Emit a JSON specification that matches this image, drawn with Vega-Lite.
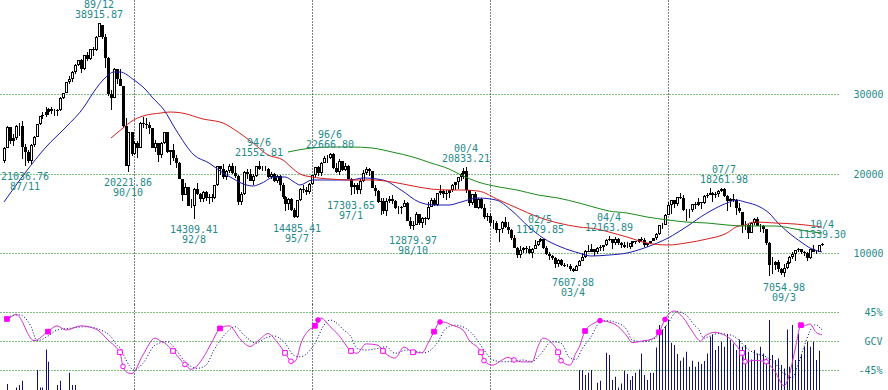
{
"$schema":"https://vega.github.io/schema/vega-lite/v6.json",
"padding":0,"background":"white","spacing":0,
"config":{"view":{"stroke":null},"axis":{"labelFont":"DejaVu Sans Mono","labelFontSize":10,"labelColor":"#1f8a8a"}},
"datasets":{
"k":[
{"d":"1987-04-01","o":21566,"h":23400,"l":21300,"c":23274},{"d":"1987-05-01","o":23274,"h":26000,"l":23200,"c":25929},{"d":"1987-06-01","o":25929,"h":25929,"l":23800,"c":24176},{"d":"1987-07-01","o":24176,"h":25000,"l":23500,"c":24488},{"d":"1987-08-01","o":24488,"h":26100,"l":24300,"c":26029},{"d":"1987-09-01","o":26029,"h":26400,"l":24800,"c":26011},{"d":"1987-10-01","o":26011,"h":26646,"l":21910,"c":23329},{"d":"1987-11-01","o":23329,"h":23700,"l":21037,"c":22686},{"d":"1987-12-01","o":22686,"h":23000,"l":21400,"c":21564},
{"d":"1988-01-01","o":21564,"h":23700,"l":21200,"c":23622},{"d":"1988-02-01","o":23622,"h":24700,"l":23400,"c":24660},{"d":"1988-03-01","o":24660,"h":26300,"l":24600,"c":26260},{"d":"1988-04-01","o":26260,"h":27300,"l":26100,"c":27235},{"d":"1988-05-01","o":27235,"h":27800,"l":26900,"c":27417},{"d":"1988-06-01","o":27417,"h":28400,"l":27200,"c":27769},{"d":"1988-07-01","o":27769,"h":28300,"l":27400,"c":28101},{"d":"1988-08-01","o":28101,"h":28400,"l":27500,"c":27911},{"d":"1988-09-01","o":27911,"h":28100,"l":27300,"c":27924},{"d":"1988-10-01","o":27924,"h":28100,"l":27300,"c":27989},{"d":"1988-11-01","o":27989,"h":29600,"l":27900,"c":29579},{"d":"1988-12-01","o":29579,"h":30200,"l":29400,"c":30159},
{"d":"1989-01-01","o":30159,"h":31600,"l":30100,"c":31581},{"d":"1989-02-01","o":31581,"h":32300,"l":31300,"c":31985},{"d":"1989-03-01","o":31985,"h":32900,"l":31600,"c":32839},{"d":"1989-04-01","o":32839,"h":33800,"l":32600,"c":33713},{"d":"1989-05-01","o":33713,"h":34300,"l":33500,"c":34267},{"d":"1989-06-01","o":34267,"h":34500,"l":32700,"c":33183},{"d":"1989-07-01","o":33183,"h":35000,"l":33000,"c":34954},{"d":"1989-08-01","o":34954,"h":35300,"l":34200,"c":34431},{"d":"1989-09-01","o":34431,"h":35700,"l":34300,"c":35636},{"d":"1989-10-01","o":35636,"h":35900,"l":34800,"c":35549},{"d":"1989-11-01","o":35549,"h":37300,"l":35400,"c":37268},{"d":"1989-12-01","o":37268,"h":38916,"l":37200,"c":38916},
{"d":"1990-01-01","o":38713,"h":38713,"l":36900,"c":37189},{"d":"1990-02-01","o":37189,"h":37600,"l":33300,"c":34592},{"d":"1990-03-01","o":34592,"h":34700,"l":29800,"c":29980},{"d":"1990-04-01","o":29980,"h":30500,"l":28002,"c":29585},{"d":"1990-05-01","o":29585,"h":33300,"l":29500,"c":33131},{"d":"1990-06-01","o":33131,"h":33200,"l":31300,"c":31940},{"d":"1990-07-01","o":31940,"h":33200,"l":31000,"c":31036},{"d":"1990-08-01","o":31036,"h":31100,"l":25700,"c":25979},{"d":"1990-09-01","o":25979,"h":27000,"l":20984,"c":20984},{"d":"1990-10-01","o":20984,"h":25300,"l":20222,"c":25194},{"d":"1990-11-01","o":25194,"h":25300,"l":22200,"c":22455},{"d":"1990-12-01","o":22455,"h":24100,"l":22300,"c":23849},
{"d":"1991-01-01","o":23849,"h":24100,"l":22000,"c":23293},{"d":"1991-02-01","o":23293,"h":26500,"l":23200,"c":26409},{"d":"1991-03-01","o":26409,"h":27100,"l":25800,"c":26292},{"d":"1991-04-01","o":26292,"h":27000,"l":25600,"c":26111},{"d":"1991-05-01","o":26111,"h":26500,"l":25000,"c":25790},{"d":"1991-06-01","o":25790,"h":25800,"l":23200,"c":23291},{"d":"1991-07-01","o":23291,"h":24200,"l":22800,"c":23899},{"d":"1991-08-01","o":23899,"h":23900,"l":21456,"c":22336},{"d":"1991-09-01","o":22336,"h":24000,"l":22000,"c":23916},{"d":"1991-10-01","o":23916,"h":25300,"l":23800,"c":25222},{"d":"1991-11-01","o":25222,"h":25300,"l":22600,"c":22688},{"d":"1991-12-01","o":22688,"h":23000,"l":21100,"c":22984},
{"d":"1992-01-01","o":22984,"h":23800,"l":21600,"c":22023},{"d":"1992-02-01","o":22023,"h":22300,"l":20700,"c":21339},{"d":"1992-03-01","o":21339,"h":21500,"l":19300,"c":19346},{"d":"1992-04-01","o":19346,"h":19400,"l":16600,"c":17391},{"d":"1992-05-01","o":17391,"h":18900,"l":17300,"c":18348},{"d":"1992-06-01","o":18348,"h":18400,"l":15900,"c":15952},{"d":"1992-07-01","o":15952,"h":16800,"l":15700,"c":15910},{"d":"1992-08-01","o":15910,"h":18200,"l":14309,"c":18061},{"d":"1992-09-01","o":18061,"h":18900,"l":17300,"c":17399},{"d":"1992-10-01","o":17399,"h":17600,"l":16400,"c":16767},{"d":"1992-11-01","o":16767,"h":17800,"l":16500,"c":17684},{"d":"1992-12-01","o":17684,"h":17800,"l":16600,"c":16925},
{"d":"1993-01-01","o":16925,"h":17400,"l":16200,"c":17024},{"d":"1993-02-01","o":17024,"h":17400,"l":16500,"c":16953},{"d":"1993-03-01","o":16953,"h":18600,"l":16800,"c":18591},{"d":"1993-04-01","o":18591,"h":20950,"l":18500,"c":20919},{"d":"1993-05-01","o":20919,"h":21000,"l":19800,"c":20552},{"d":"1993-06-01","o":20552,"h":21200,"l":19400,"c":19591},{"d":"1993-07-01","o":19591,"h":20500,"l":19200,"c":20380},{"d":"1993-08-01","o":20380,"h":21281,"l":20100,"c":21027},{"d":"1993-09-01","o":21027,"h":21300,"l":20000,"c":20106},{"d":"1993-10-01","o":20106,"h":21000,"l":19500,"c":19704},{"d":"1993-11-01","o":19704,"h":19900,"l":16079,"c":16408},{"d":"1993-12-01","o":16408,"h":17700,"l":16100,"c":17417},
{"d":"1994-01-01","o":17417,"h":20300,"l":17300,"c":20229},{"d":"1994-02-01","o":20229,"h":20600,"l":19400,"c":19997},{"d":"1994-03-01","o":19997,"h":20600,"l":19100,"c":19112},{"d":"1994-04-01","o":19112,"h":20000,"l":18600,"c":19725},{"d":"1994-05-01","o":19725,"h":21000,"l":19600,"c":20974},{"d":"1994-06-01","o":20974,"h":21553,"l":20500,"c":20644},{"d":"1994-07-01","o":20644,"h":21000,"l":20400,"c":20642},{"d":"1994-08-01","o":20642,"h":21000,"l":20300,"c":20629},{"d":"1994-09-01","o":20629,"h":20700,"l":19500,"c":19564},{"d":"1994-10-01","o":19564,"h":20200,"l":19400,"c":19990},{"d":"1994-11-01","o":19990,"h":20100,"l":19000,"c":19076},{"d":"1994-12-01","o":19076,"h":19800,"l":18800,"c":19723},
{"d":"1995-01-01","o":19723,"h":19800,"l":17800,"c":18650},{"d":"1995-02-01","o":18650,"h":18800,"l":16800,"c":17053},{"d":"1995-03-01","o":17053,"h":17200,"l":15300,"c":16140},{"d":"1995-04-01","o":16140,"h":17000,"l":15400,"c":16807},{"d":"1995-05-01","o":16807,"h":17000,"l":15300,"c":15437},{"d":"1995-06-01","o":15437,"h":15700,"l":14500,"c":14517},{"d":"1995-07-01","o":14517,"h":16700,"l":14485,"c":16678},{"d":"1995-08-01","o":16678,"h":18200,"l":16600,"c":18117},{"d":"1995-09-01","o":18117,"h":18600,"l":17600,"c":17913},{"d":"1995-10-01","o":17913,"h":18400,"l":17300,"c":17655},{"d":"1995-11-01","o":17655,"h":18800,"l":17400,"c":18744},{"d":"1995-12-01","o":18744,"h":19900,"l":18600,"c":19868},
{"d":"1996-01-01","o":19868,"h":20900,"l":19600,"c":20813},{"d":"1996-02-01","o":20813,"h":21000,"l":19700,"c":20125},{"d":"1996-03-01","o":20125,"h":21500,"l":19700,"c":21407},{"d":"1996-04-01","o":21407,"h":22200,"l":21300,"c":22041},{"d":"1996-05-01","o":22041,"h":22300,"l":21300,"c":21956},{"d":"1996-06-01","o":21956,"h":22667,"l":21800,"c":22531},{"d":"1996-07-01","o":22531,"h":22600,"l":20600,"c":20693},{"d":"1996-08-01","o":20693,"h":21300,"l":20100,"c":20167},{"d":"1996-09-01","o":20167,"h":21800,"l":19800,"c":21556},{"d":"1996-10-01","o":21556,"h":21600,"l":20300,"c":20467},{"d":"1996-11-01","o":20467,"h":21300,"l":20300,"c":21020},{"d":"1996-12-01","o":21020,"h":21100,"l":19300,"c":19361},
{"d":"1997-01-01","o":19361,"h":19500,"l":17304,"c":18330},{"d":"1997-02-01","o":18330,"h":18900,"l":17500,"c":18557},{"d":"1997-03-01","o":18557,"h":18800,"l":17500,"c":18003},{"d":"1997-04-01","o":18003,"h":19300,"l":17500,"c":19151},{"d":"1997-05-01","o":19151,"h":20500,"l":19000,"c":20069},{"d":"1997-06-01","o":20069,"h":20900,"l":19900,"c":20605},{"d":"1997-07-01","o":20605,"h":20700,"l":19700,"c":20331},{"d":"1997-08-01","o":20331,"h":20400,"l":18200,"c":18229},{"d":"1997-09-01","o":18229,"h":18600,"l":17200,"c":17888},{"d":"1997-10-01","o":17888,"h":18000,"l":16300,"c":16459},{"d":"1997-11-01","o":16459,"h":16900,"l":14800,"c":16633},{"d":"1997-12-01","o":16633,"h":16900,"l":14900,"c":15259},
{"d":"1998-01-01","o":15259,"h":17000,"l":14700,"c":16628},{"d":"1998-02-01","o":16628,"h":17200,"l":16300,"c":16832},{"d":"1998-03-01","o":16832,"h":17300,"l":16200,"c":16527},{"d":"1998-04-01","o":16527,"h":16700,"l":15600,"c":15641},{"d":"1998-05-01","o":15641,"h":16000,"l":15000,"c":15671},{"d":"1998-06-01","o":15671,"h":15900,"l":14900,"c":15830},{"d":"1998-07-01","o":15830,"h":16700,"l":15800,"c":16379},{"d":"1998-08-01","o":16379,"h":16500,"l":14100,"c":14108},{"d":"1998-09-01","o":14108,"h":14600,"l":13100,"c":13406},{"d":"1998-10-01","o":13406,"h":14000,"l":12880,"c":13565},{"d":"1998-11-01","o":13565,"h":15200,"l":13500,"c":14883},{"d":"1998-12-01","o":14883,"h":15000,"l":13500,"c":13842},
{"d":"1999-01-01","o":13842,"h":14600,"l":13200,"c":14499},{"d":"1999-02-01","o":14499,"h":14600,"l":13600,"c":14368},{"d":"1999-03-01","o":14368,"h":16400,"l":14200,"c":15837},{"d":"1999-04-01","o":15837,"h":16900,"l":15800,"c":16702},{"d":"1999-05-01","o":16702,"h":16900,"l":16000,"c":16112},{"d":"1999-06-01","o":16112,"h":17600,"l":16000,"c":17530},{"d":"1999-07-01","o":17530,"h":18600,"l":17300,"c":17862},{"d":"1999-08-01","o":17862,"h":18000,"l":16900,"c":17437},{"d":"1999-09-01","o":17437,"h":18000,"l":16700,"c":17605},{"d":"1999-10-01","o":17605,"h":18000,"l":17000,"c":17942},{"d":"1999-11-01","o":17942,"h":18700,"l":17700,"c":18558},{"d":"1999-12-01","o":18558,"h":19000,"l":18000,"c":18934},
{"d":"2000-01-01","o":18934,"h":19600,"l":18100,"c":19540},{"d":"2000-02-01","o":19540,"h":20100,"l":19100,"c":19960},{"d":"2000-03-01","o":19960,"h":20700,"l":19300,"c":20337},{"d":"2000-04-01","o":20337,"h":20833,"l":17600,"c":17974},{"d":"2000-05-01","o":17974,"h":18000,"l":16000,"c":16332},{"d":"2000-06-01","o":16332,"h":17500,"l":16100,"c":17411},{"d":"2000-07-01","o":17411,"h":17700,"l":15700,"c":15727},{"d":"2000-08-01","o":15727,"h":16900,"l":15600,"c":16861},{"d":"2000-09-01","o":16861,"h":16900,"l":15600,"c":15747},{"d":"2000-10-01","o":15747,"h":16200,"l":14300,"c":14540},{"d":"2000-11-01","o":14540,"h":15100,"l":14100,"c":14649},{"d":"2000-12-01","o":14649,"h":15100,"l":13400,"c":13786},
{"d":"2001-01-01","o":13786,"h":14200,"l":13000,"c":13844},{"d":"2001-02-01","o":13844,"h":14000,"l":12600,"c":12884},{"d":"2001-03-01","o":12884,"h":13100,"l":11433,"c":12999},{"d":"2001-04-01","o":12999,"h":14000,"l":12600,"c":13934},{"d":"2001-05-01","o":13934,"h":14600,"l":13200,"c":13262},{"d":"2001-06-01","o":13262,"h":13900,"l":12400,"c":12969},{"d":"2001-07-01","o":12969,"h":13000,"l":11700,"c":11861},{"d":"2001-08-01","o":11861,"h":12300,"l":10700,"c":10714},{"d":"2001-09-01","o":10714,"h":10800,"l":9382,"c":9775},{"d":"2001-10-01","o":9775,"h":10900,"l":9400,"c":10366},{"d":"2001-11-01","o":10366,"h":10800,"l":10000,"c":10697},{"d":"2001-12-01","o":10697,"h":10900,"l":10000,"c":10543},
{"d":"2002-01-01","o":10543,"h":10900,"l":9900,"c":9997},{"d":"2002-02-01","o":9997,"h":10700,"l":9420,"c":10588},{"d":"2002-03-01","o":10588,"h":11700,"l":10500,"c":11025},{"d":"2002-04-01","o":11025,"h":11600,"l":10900,"c":11493},{"d":"2002-05-01","o":11493,"h":11980,"l":11400,"c":11764},{"d":"2002-06-01","o":11764,"h":11800,"l":10500,"c":10622},{"d":"2002-07-01","o":10622,"h":10900,"l":9800,"c":9877},{"d":"2002-08-01","o":9877,"h":10200,"l":9100,"c":9619},{"d":"2002-09-01","o":9619,"h":9800,"l":9100,"c":9383},{"d":"2002-10-01","o":9383,"h":9500,"l":8200,"c":8640},{"d":"2002-11-01","o":8640,"h":9300,"l":8300,"c":9216},{"d":"2002-12-01","o":9216,"h":9300,"l":8400,"c":8579},
{"d":"2003-01-01","o":8579,"h":8800,"l":8300,"c":8340},{"d":"2003-02-01","o":8340,"h":8700,"l":8300,"c":8363},{"d":"2003-03-01","o":8363,"h":8600,"l":7800,"c":7973},{"d":"2003-04-01","o":7973,"h":8100,"l":7608,"c":7831},{"d":"2003-05-01","o":7831,"h":8500,"l":7800,"c":8425},{"d":"2003-06-01","o":8425,"h":9200,"l":8400,"c":9083},{"d":"2003-07-01","o":9083,"h":10000,"l":9000,"c":9563},{"d":"2003-08-01","o":9563,"h":10400,"l":9400,"c":10344},{"d":"2003-09-01","o":10344,"h":11000,"l":10200,"c":10219},{"d":"2003-10-01","o":10219,"h":11200,"l":10200,"c":10560},{"d":"2003-11-01","o":10560,"h":10600,"l":9600,"c":10101},{"d":"2003-12-01","o":10101,"h":10800,"l":9900,"c":10677},
{"d":"2004-01-01","o":10677,"h":11000,"l":10300,"c":10784},{"d":"2004-02-01","o":10784,"h":11100,"l":10300,"c":11042},{"d":"2004-03-01","o":11042,"h":11800,"l":10900,"c":11715},{"d":"2004-04-01","o":11715,"h":12164,"l":11600,"c":11762},{"d":"2004-05-01","o":11762,"h":11800,"l":10500,"c":11236},{"d":"2004-06-01","o":11236,"h":12000,"l":11000,"c":11859},{"d":"2004-07-01","o":11859,"h":11900,"l":11100,"c":11326},{"d":"2004-08-01","o":11326,"h":11400,"l":10700,"c":11082},{"d":"2004-09-01","o":11082,"h":11400,"l":10700,"c":10824},{"d":"2004-10-01","o":10824,"h":11400,"l":10700,"c":10771},{"d":"2004-11-01","o":10771,"h":11300,"l":10600,"c":11231},{"d":"2004-12-01","o":11231,"h":11500,"l":10800,"c":11489},
{"d":"2005-01-01","o":11489,"h":11600,"l":11200,"c":11388},{"d":"2005-02-01","o":11388,"h":11800,"l":11300,"c":11741},{"d":"2005-03-01","o":11741,"h":12000,"l":11600,"c":11669},{"d":"2005-04-01","o":11669,"h":11900,"l":10800,"c":11009},{"d":"2005-05-01","o":11009,"h":11300,"l":10800,"c":11277},{"d":"2005-06-01","o":11277,"h":11600,"l":11200,"c":11584},{"d":"2005-07-01","o":11584,"h":11950,"l":11500,"c":11900},{"d":"2005-08-01","o":11900,"h":12500,"l":11700,"c":12414},{"d":"2005-09-01","o":12414,"h":13600,"l":12300,"c":13574},{"d":"2005-10-01","o":13574,"h":13800,"l":13000,"c":13607},{"d":"2005-11-01","o":13607,"h":14900,"l":13600,"c":14872},{"d":"2005-12-01","o":14872,"h":16400,"l":14800,"c":16111},
{"d":"2006-01-01","o":16111,"h":16700,"l":15000,"c":16650},{"d":"2006-02-01","o":16650,"h":16700,"l":15700,"c":16206},{"d":"2006-03-01","o":16206,"h":17100,"l":15900,"c":17060},{"d":"2006-04-01","o":17060,"h":17600,"l":16800,"c":16906},{"d":"2006-05-01","o":16906,"h":17300,"l":15300,"c":15467},{"d":"2006-06-01","o":15467,"h":15600,"l":14046,"c":15505},{"d":"2006-07-01","o":15505,"h":15600,"l":14400,"c":15457},{"d":"2006-08-01","o":15457,"h":16200,"l":15200,"c":16141},{"d":"2006-09-01","o":16141,"h":16400,"l":15600,"c":16128},{"d":"2006-10-01","o":16128,"h":16900,"l":16000,"c":16399},{"d":"2006-11-01","o":16399,"h":16500,"l":15600,"c":16274},{"d":"2006-12-01","o":16274,"h":17300,"l":16200,"c":17226},
{"d":"2007-01-01","o":17226,"h":17600,"l":16900,"c":17383},{"d":"2007-02-01","o":17383,"h":18215,"l":17300,"c":17604},{"d":"2007-03-01","o":17604,"h":17700,"l":16500,"c":17288},{"d":"2007-04-01","o":17288,"h":17700,"l":17000,"c":17400},{"d":"2007-05-01","o":17400,"h":17900,"l":17100,"c":17876},{"d":"2007-06-01","o":17876,"h":18240,"l":17700,"c":18138},{"d":"2007-07-01","o":18138,"h":18262,"l":17100,"c":17249},{"d":"2007-08-01","o":17249,"h":17300,"l":15262,"c":16569},{"d":"2007-09-01","o":16569,"h":16900,"l":15800,"c":16786},{"d":"2007-10-01","o":16786,"h":17500,"l":16400,"c":16737},{"d":"2007-11-01","o":16737,"h":16800,"l":14800,"c":15681},{"d":"2007-12-01","o":15681,"h":16300,"l":15100,"c":15308},
{"d":"2008-01-01","o":15156,"h":15156,"l":12573,"c":13592},{"d":"2008-02-01","o":13592,"h":14000,"l":12900,"c":13603},{"d":"2008-03-01","o":13603,"h":13700,"l":11788,"c":12526},{"d":"2008-04-01","o":12526,"h":13900,"l":12500,"c":13850},{"d":"2008-05-01","o":13850,"h":14500,"l":13600,"c":14339},{"d":"2008-06-01","o":14339,"h":14600,"l":13400,"c":13481},{"d":"2008-07-01","o":13481,"h":13700,"l":12700,"c":13377},{"d":"2008-08-01","o":13377,"h":13500,"l":12600,"c":13073},{"d":"2008-09-01","o":13073,"h":13100,"l":11000,"c":11260},{"d":"2008-10-01","o":11260,"h":11400,"l":7163,"c":8577},{"d":"2008-11-01","o":8577,"h":9500,"l":7400,"c":8512},{"d":"2008-12-01","o":8512,"h":9000,"l":7900,"c":8860},
{"d":"2009-01-01","o":8860,"h":9200,"l":7700,"c":7994},{"d":"2009-02-01","o":7994,"h":8100,"l":7300,"c":7568},{"d":"2009-03-01","o":7568,"h":8600,"l":7055,"c":8110},{"d":"2009-04-01","o":8110,"h":9000,"l":8000,"c":8828},{"d":"2009-05-01","o":8828,"h":9600,"l":8600,"c":9523},{"d":"2009-06-01","o":9523,"h":10200,"l":9300,"c":9958},{"d":"2009-07-01","o":9958,"h":10400,"l":9000,"c":10357},{"d":"2009-08-01","o":10357,"h":10700,"l":10100,"c":10493},{"d":"2009-09-01","o":10493,"h":10600,"l":9900,"c":10133},{"d":"2009-10-01","o":10133,"h":10300,"l":9600,"c":10035},{"d":"2009-11-01","o":10035,"h":10100,"l":9080,"c":9346},{"d":"2009-12-01","o":9346,"h":10600,"l":9300,"c":10546},
{"d":"2010-01-01","o":10546,"h":10980,"l":10200,"c":10198},{"d":"2010-02-01","o":10198,"h":10400,"l":9900,"c":10126},{"d":"2010-03-01","o":10126,"h":11100,"l":10100,"c":11090},{"d":"2010-04-01","o":11090,"h":11339,"l":10900,"c":11200}
],
"ma":[
{"s":"b","d":"1987-04-01","v":16490},{"s":"b","d":"1987-11-01","v":20065},{"s":"b","d":"1988-06-01","v":23410},{"s":"b","d":"1989-01-01","v":25927},{"s":"b","d":"1989-07-01","v":28443},{"s":"b","d":"1989-10-01","v":30129},{"s":"b","d":"1990-02-01","v":32016},{"s":"b","d":"1990-05-01","v":32846},{"s":"b","d":"1990-07-01","v":32846},{"s":"b","d":"1990-12-01","v":31802},{"s":"b","d":"1991-04-01","v":30544},{"s":"b","d":"1991-06-01","v":29701},{"s":"b","d":"1991-10-01","v":28028},{"s":"b","d":"1992-02-01","v":25512},{"s":"b","d":"1992-08-01","v":22367},{"s":"b","d":"1993-01-01","v":21323},{"s":"b","d":"1993-06-01","v":20065},{"s":"b","d":"1993-09-01","v":19436},{"s":"b","d":"1993-12-01","v":18807},{"s":"b","d":"1994-04-01","v":18468},{"s":"b","d":"1994-07-01","v":18807},{"s":"b","d":"1994-11-01","v":19562},{"s":"b","d":"1995-03-01","v":19637},{"s":"b","d":"1995-06-01","v":19008},{"s":"b","d":"1995-08-01","v":18593},{"s":"b","d":"1995-12-01","v":19222},{"s":"b","d":"1996-06-01","v":19222},{"s":"b","d":"1997-01-01","v":19222},{"s":"b","d":"1997-05-01","v":19436},{"s":"b","d":"1997-12-01","v":19222},{"s":"b","d":"1998-06-01","v":17964},{"s":"b","d":"1998-12-01","v":16492},{"s":"b","d":"1999-05-01","v":16077},{"s":"b","d":"1999-10-01","v":16077},{"s":"b","d":"2000-02-01","v":16492},{"s":"b","d":"2000-08-01","v":16920},{"s":"b","d":"2001-02-01","v":16706},{"s":"b","d":"2001-07-01","v":15448},{"s":"b","d":"2002-01-01","v":13347},{"s":"b","d":"2002-06-01","v":11888},{"s":"b","d":"2002-12-01","v":10831},{"s":"b","d":"2003-06-01","v":10001},{"s":"b","d":"2003-10-01","v":9661},{"s":"b","d":"2004-04-01","v":9787},{"s":"b","d":"2004-10-01","v":10077},{"s":"b","d":"2005-05-01","v":10831},{"s":"b","d":"2005-12-01","v":11888},{"s":"b","d":"2006-06-01","v":13347},{"s":"b","d":"2007-01-01","v":15033},{"s":"b","d":"2007-08-01","v":16367},{"s":"b","d":"2007-11-01","v":16706},{"s":"b","d":"2008-02-01","v":16390},{"s":"b","d":"2008-07-01","v":15864},{"s":"b","d":"2008-10-01","v":15033},{"s":"b","d":"2009-01-01","v":13775},{"s":"b","d":"2009-05-01","v":12517},{"s":"b","d":"2009-09-01","v":11460},{"s":"b","d":"2009-12-01","v":10630},{"s":"b","d":"2010-04-01","v":10202},
{"s":"r","d":"1990-04-01","v":24470},{"s":"r","d":"1990-08-01","v":25700},{"s":"r","d":"1990-11-01","v":26600},{"s":"r","d":"1991-03-01","v":27300},{"s":"r","d":"1991-09-01","v":27613},{"s":"r","d":"1991-12-01","v":27740},{"s":"r","d":"1992-04-01","v":27613},{"s":"r","d":"1992-11-01","v":26858},{"s":"r","d":"1993-06-01","v":26355},{"s":"r","d":"1993-10-01","v":25513},{"s":"r","d":"1994-04-01","v":23838},{"s":"r","d":"1994-09-01","v":22366},{"s":"r","d":"1995-02-01","v":21738},{"s":"r","d":"1995-05-01","v":20820},{"s":"r","d":"1995-08-01","v":20000},{"s":"r","d":"1995-12-01","v":19640},{"s":"r","d":"1996-06-01","v":19388},{"s":"r","d":"1997-01-01","v":19224},{"s":"r","d":"1997-08-01","v":19224},{"s":"r","d":"1998-03-01","v":19010},{"s":"r","d":"1998-10-01","v":18455},{"s":"r","d":"1999-04-01","v":18040},{"s":"r","d":"1999-10-01","v":17907},{"s":"r","d":"2000-02-01","v":17964},{"s":"r","d":"2000-08-01","v":17837},{"s":"r","d":"2001-03-01","v":16706},{"s":"r","d":"2001-09-01","v":15662},{"s":"r","d":"2002-04-01","v":14618},{"s":"r","d":"2002-11-01","v":13775},{"s":"r","d":"2003-06-01","v":13347},{"s":"r","d":"2003-12-01","v":13020},{"s":"r","d":"2004-04-01","v":12717},{"s":"r","d":"2004-10-01","v":12088},{"s":"r","d":"2005-05-01","v":11334},{"s":"r","d":"2005-12-01","v":11045},{"s":"r","d":"2006-06-01","v":11254},{"s":"r","d":"2007-01-01","v":11757},{"s":"r","d":"2007-08-01","v":12512},{"s":"r","d":"2007-11-01","v":13368},{"s":"r","d":"2008-02-01","v":13561},{"s":"r","d":"2008-05-01","v":13889},{"s":"r","d":"2008-12-01","v":13800},{"s":"r","d":"2009-07-01","v":13637},{"s":"r","d":"2010-04-01","v":13297},
{"s":"g","d":"1995-04-01","v":22782},{"s":"g","d":"1995-12-01","v":23201},{"s":"g","d":"1996-06-01","v":23410},{"s":"g","d":"1997-01-01","v":23410},{"s":"g","d":"1997-08-01","v":23201},{"s":"g","d":"1998-03-01","v":22782},{"s":"g","d":"1998-10-01","v":22153},{"s":"g","d":"1999-04-01","v":21310},{"s":"g","d":"1999-10-01","v":20550},{"s":"g","d":"2000-02-01","v":19826},{"s":"g","d":"2000-08-01","v":18983},{"s":"g","d":"2001-03-01","v":18354},{"s":"g","d":"2001-09-01","v":17939},{"s":"g","d":"2002-04-01","v":17310},{"s":"g","d":"2002-11-01","v":16895},{"s":"g","d":"2003-06-01","v":16266},{"s":"g","d":"2003-12-01","v":15637},{"s":"g","d":"2004-04-01","v":15310},{"s":"g","d":"2004-10-01","v":15008},{"s":"g","d":"2005-05-01","v":14593},{"s":"g","d":"2005-12-01","v":14177},{"s":"g","d":"2006-06-01","v":13964},{"s":"g","d":"2007-01-01","v":13749},{"s":"g","d":"2007-08-01","v":13548},{"s":"g","d":"2008-02-01","v":13461},{"s":"g","d":"2008-05-01","v":13400},{"s":"g","d":"2008-12-01","v":13374},{"s":"g","d":"2009-07-01","v":13046},{"s":"g","d":"2010-01-01","v":12705},{"s":"g","d":"2010-04-01","v":12600}
],
"ann":[
{"d":"1989-12-01","lbl":"89/12","v":38915.87,"kind":"hi"},{"d":"1994-06-01","lbl":"94/6","v":21552.81,"kind":"hi"},{"d":"1996-06-01","lbl":"96/6","v":22666.80,"kind":"hi"},{"d":"2000-04-01","lbl":"00/4","v":20833.21,"kind":"hi"},{"d":"2002-05-01","lbl":"02/5","v":11979.85,"kind":"hi"},{"d":"2004-04-01","lbl":"04/4","v":12163.89,"kind":"hi"},{"d":"2007-07-01","lbl":"07/7","v":18261.98,"kind":"hi"},{"d":"2010-04-01","lbl":"10/4","v":11339.30,"kind":"hi"},
{"d":"1987-11-01","lbl":"87/11","v":21036.76,"kind":"lo"},{"d":"1990-10-01","lbl":"90/10","v":20221.86,"kind":"lo"},{"d":"1992-08-01","lbl":"92/8","v":14309.41,"kind":"lo"},{"d":"1995-07-01","lbl":"95/7","v":14485.41,"kind":"lo"},{"d":"1997-01-01","lbl":"97/1","v":17303.65,"kind":"lo"},{"d":"1998-10-01","lbl":"98/10","v":12879.97,"kind":"lo"},{"d":"2003-04-01","lbl":"03/4","v":7607.88,"kind":"lo"},{"d":"2009-03-01","lbl":"09/3","v":7054.98,"kind":"lo"}
],
"vol":[
{"d":"1987-05-01","vol":180},{"d":"1987-08-01","vol":163},{"d":"1987-09-01","vol":175},{"d":"1987-10-01","vol":196},{"d":"1988-03-01","vol":250},{"d":"1988-04-01","vol":163},{"d":"1988-05-01","vol":163},{"d":"1988-06-01","vol":353},{"d":"1988-07-01","vol":291},{"d":"1988-10-01","vol":175},{"d":"1988-11-01","vol":196},{"d":"1989-02-01","vol":236},{"d":"1989-03-01","vol":175},{"d":"1989-04-01","vol":175},
{"d":"2003-06-01","vol":250},{"d":"2003-07-01","vol":250},{"d":"2003-08-01","vol":225},{"d":"2003-09-01","vol":236},{"d":"2003-10-01","vol":250},{"d":"2003-12-01","vol":186},{"d":"2004-01-01","vol":196},{"d":"2004-03-01","vol":336},{"d":"2004-04-01","vol":325},{"d":"2004-05-01","vol":200},{"d":"2004-06-01","vol":216},{"d":"2004-07-01","vol":163},{"d":"2004-08-01","vol":183},{"d":"2004-09-01","vol":246},{"d":"2004-10-01","vol":230},{"d":"2004-11-01","vol":200},{"d":"2004-12-01","vol":220},
{"d":"2005-01-01","vol":236},{"d":"2005-02-01","vol":253},{"d":"2005-03-01","vol":333},{"d":"2005-04-01","vol":225},{"d":"2005-05-01","vol":200},{"d":"2005-06-01","vol":236},{"d":"2005-07-01","vol":236},{"d":"2005-08-01","vol":363},{"d":"2005-09-01","vol":475},{"d":"2005-10-01","vol":453},{"d":"2005-11-01","vol":470},{"d":"2005-12-01","vol":500},
{"d":"2006-01-01","vol":386},{"d":"2006-02-01","vol":375},{"d":"2006-03-01","vol":330},{"d":"2006-04-01","vol":296},{"d":"2006-05-01","vol":313},{"d":"2006-06-01","vol":341},{"d":"2006-07-01","vol":266},{"d":"2006-08-01","vol":296},{"d":"2006-09-01","vol":266},{"d":"2006-10-01","vol":291},{"d":"2006-11-01","vol":280},{"d":"2006-12-01","vol":295},
{"d":"2007-01-01","vol":333},{"d":"2007-02-01","vol":416},{"d":"2007-03-01","vol":428},{"d":"2007-04-01","vol":350},{"d":"2007-05-01","vol":370},{"d":"2007-06-01","vol":391},{"d":"2007-07-01","vol":366},{"d":"2007-08-01","vol":428},{"d":"2007-09-01","vol":400},{"d":"2007-10-01","vol":383},{"d":"2007-11-01","vol":350},{"d":"2007-12-01","vol":403},
{"d":"2008-01-01","vol":366},{"d":"2008-02-01","vol":375},{"d":"2008-03-01","vol":341},{"d":"2008-04-01","vol":303},{"d":"2008-05-01","vol":350},{"d":"2008-06-01","vol":333},{"d":"2008-07-01","vol":366},{"d":"2008-08-01","vol":333},{"d":"2008-09-01","vol":308},{"d":"2008-10-01","vol":500},{"d":"2008-11-01","vol":325},{"d":"2008-12-01","vol":300},
{"d":"2009-01-01","vol":308},{"d":"2009-02-01","vol":275},{"d":"2009-03-01","vol":258},{"d":"2009-04-01","vol":453},{"d":"2009-05-01","vol":266},{"d":"2009-06-01","vol":475},{"d":"2009-07-01","vol":300},{"d":"2009-08-01","vol":433},{"d":"2009-09-01","vol":325},{"d":"2009-10-01","vol":366},{"d":"2009-11-01","vol":391},{"d":"2009-12-01","vol":366},{"d":"2010-01-01","vol":391},{"d":"2010-02-01","vol":300},{"d":"2010-03-01","vol":346}
],
"gcv":[
{"d":"1987-04-01","g":35.7},{"d":"1987-05-01","g":34.6},{"d":"1987-08-01","g":42},{"d":"1988-02-01","g":1},{"d":"1988-07-01","g":15},{"d":"1988-10-01","g":24},{"d":"1989-01-01","g":17.5},{"d":"1989-06-01","g":24},{"d":"1989-09-01","g":22},{"d":"1989-12-01","g":16},{"d":"1990-03-01","g":2},{"d":"1990-06-01","g":-11},{"d":"1990-07-01","g":-17},{"d":"1990-08-01","g":-39},{"d":"1990-10-01","g":-49},{"d":"1990-11-01","g":-50},{"d":"1991-03-01","g":-21},{"d":"1991-07-01","g":5},{"d":"1991-09-01","g":0},{"d":"1991-10-01","g":-2},{"d":"1992-01-01","g":-15},{"d":"1992-05-01","g":-36},{"d":"1992-07-01","g":-43.5},{"d":"1992-08-01","g":-42},{"d":"1992-11-01","g":-26},{"d":"1993-02-01","g":-1},{"d":"1993-05-01","g":20},{"d":"1993-08-01","g":24},{"d":"1993-12-01","g":2},{"d":"1994-03-01","g":-8},{"d":"1994-06-01","g":2},{"d":"1994-09-01","g":12},{"d":"1994-12-01","g":-1},{"d":"1995-03-01","g":-18},{"d":"1995-05-01","g":-31},{"d":"1995-06-01","g":-32},{"d":"1995-07-01","g":-26},{"d":"1995-08-01","g":-8},{"d":"1995-11-01","g":17.5},{"d":"1996-01-01","g":24},{"d":"1996-02-01","g":33},{"d":"1996-03-01","g":36},{"d":"1996-06-01","g":23},{"d":"1996-09-01","g":9},{"d":"1997-01-01","g":-15},{"d":"1997-03-01","g":-18.6},{"d":"1997-06-01","g":-4},{"d":"1997-10-01","g":-6},{"d":"1997-12-01","g":-15},{"d":"1998-04-01","g":-26},{"d":"1998-07-01","g":-9},{"d":"1998-10-01","g":-17},{"d":"1999-01-01","g":-18},{"d":"1999-03-01","g":-3},{"d":"1999-05-01","g":15},{"d":"1999-07-01","g":30},{"d":"1999-08-01","g":30},{"d":"1999-11-01","g":25},{"d":"2000-03-01","g":17.5},{"d":"2000-05-01","g":2},{"d":"2000-09-01","g":-17},{"d":"2000-10-01","g":-30},{"d":"2001-01-01","g":-37},{"d":"2001-04-01","g":-29},{"d":"2001-06-01","g":-25},{"d":"2001-08-01","g":-29},{"d":"2001-11-01","g":-32},{"d":"2002-02-01","g":-32},{"d":"2002-04-01","g":-8},{"d":"2002-06-01","g":5},{"d":"2002-09-01","g":-3},{"d":"2002-11-01","g":-17},{"d":"2002-12-01","g":-30},{"d":"2003-03-01","g":-37},{"d":"2003-05-01","g":-18},{"d":"2003-06-01","g":-10},{"d":"2003-08-01","g":16},{"d":"2003-11-01","g":28},{"d":"2004-01-01","g":32},{"d":"2004-03-01","g":31},{"d":"2004-07-01","g":23},{"d":"2004-10-01","g":8},{"d":"2004-12-01","g":-2},{"d":"2005-04-01","g":1},{"d":"2005-06-01","g":2.5},{"d":"2005-09-01","g":14},{"d":"2005-11-01","g":34},{"d":"2006-02-01","g":47},{"d":"2006-05-01","g":37},{"d":"2006-08-01","g":16},{"d":"2006-11-01","g":0},{"d":"2006-12-01","g":7},{"d":"2007-04-01","g":14},{"d":"2007-07-01","g":10},{"d":"2007-10-01","g":0},{"d":"2007-12-01","g":-12},{"d":"2008-01-01","g":-18},{"d":"2008-02-01","g":-31.7},{"d":"2008-05-01","g":-29.5},{"d":"2008-09-01","g":-31.7},{"d":"2008-11-01","g":-41},{"d":"2008-12-01","g":-47},{"d":"2009-03-01","g":-69},{"d":"2009-05-01","g":-54},{"d":"2009-07-01","g":-13.5},{"d":"2009-09-01","g":25},{"d":"2009-10-01","g":24},{"d":"2009-12-01","g":27},{"d":"2010-02-01","g":14},{"d":"2010-04-01","g":10}
],
"sig":[
{"d":"1987-04-01","g":37},{"d":"1987-05-01","g":38},{"d":"1987-09-01","g":41},{"d":"1988-01-01","g":23},{"d":"1988-03-01","g":1},{"d":"1988-07-01","g":8},{"d":"1988-10-01","g":17.5},{"d":"1989-02-01","g":20},{"d":"1989-08-01","g":22.7},{"d":"1989-12-01","g":18.6},{"d":"1990-04-01","g":7},{"d":"1990-06-01","g":-6},{"d":"1990-07-01","g":-10},{"d":"1990-09-01","g":-29},{"d":"1990-12-01","g":-44.5},{"d":"1991-03-01","g":-34},{"d":"1991-07-01","g":-6},{"d":"1991-11-01","g":-0.6},{"d":"1992-02-01","g":-13.5},{"d":"1992-05-01","g":-31.7},{"d":"1992-09-01","g":-42},{"d":"1992-12-01","g":-37},{"d":"1993-03-01","g":-13.5},{"d":"1993-07-01","g":12.4},{"d":"1993-10-01","g":22.7},{"d":"1994-01-01","g":9.8},{"d":"1994-05-01","g":-3},{"d":"1994-08-01","g":4.7},{"d":"1994-11-01","g":8.2},{"d":"1995-03-01","g":-3},{"d":"1995-06-01","g":-22},{"d":"1995-08-01","g":-24},{"d":"1996-01-01","g":-3},{"d":"1996-04-01","g":25},{"d":"1996-06-01","g":33},{"d":"1996-09-01","g":25},{"d":"1996-10-01","g":20},{"d":"1997-01-01","g":7},{"d":"1997-03-01","g":-11},{"d":"1997-06-01","g":-13.5},{"d":"1997-10-01","g":-11},{"d":"1998-01-01","g":-8.4},{"d":"1998-04-01","g":-18.6},{"d":"1998-08-01","g":-13.5},{"d":"1998-11-01","g":-16},{"d":"1999-02-01","g":-17.7},{"d":"1999-06-01","g":-3},{"d":"1999-09-01","g":20},{"d":"1999-12-01","g":25},{"d":"2000-04-01","g":20},{"d":"2000-07-01","g":7},{"d":"2000-10-01","g":-13.5},{"d":"2001-01-01","g":-29},{"d":"2001-04-01","g":-31.7},{"d":"2001-07-01","g":-31.7},{"d":"2001-11-01","g":-29},{"d":"2002-02-01","g":-31.7},{"d":"2002-05-01","g":-21},{"d":"2002-09-01","g":-0.6},{"d":"2002-12-01","g":-3},{"d":"2003-03-01","g":-26},{"d":"2003-05-01","g":-28},{"d":"2003-07-01","g":-12},{"d":"2003-10-01","g":7},{"d":"2004-01-01","g":30},{"d":"2004-03-01","g":32},{"d":"2004-07-01","g":28},{"d":"2004-10-01","g":17.5},{"d":"2004-12-01","g":2},{"d":"2005-04-01","g":-0.6},{"d":"2005-09-01","g":9.8},{"d":"2005-11-01","g":22},{"d":"2005-12-01","g":28},{"d":"2006-03-01","g":46},{"d":"2006-06-01","g":41},{"d":"2006-09-01","g":24},{"d":"2006-10-01","g":20},{"d":"2006-12-01","g":5},{"d":"2007-02-01","g":8},{"d":"2007-05-01","g":12},{"d":"2007-09-01","g":10},{"d":"2007-12-01","g":2},{"d":"2008-02-01","g":-8.4},{"d":"2008-05-01","g":-18},{"d":"2008-09-01","g":-24},{"d":"2008-12-01","g":-34},{"d":"2009-03-01","g":-50},{"d":"2009-04-01","g":-52},{"d":"2009-06-01","g":-57},{"d":"2009-08-01","g":-36},{"d":"2009-10-01","g":-8.4},{"d":"2009-12-01","g":16},{"d":"2010-01-01","g":24},{"d":"2010-02-01","g":26},{"d":"2010-03-01","g":22},{"d":"2010-04-01","g":18}
],
"mk":[
{"d":"1987-05-01","g":34.6,"k":"A"},{"d":"1988-07-01","g":15,"k":"A"},{"d":"1993-05-01","g":20,"k":"A"},{"d":"1996-01-01","g":24,"k":"A"},{"d":"1999-05-01","g":15,"k":"A"},{"d":"2003-08-01","g":16,"k":"A"},{"d":"2005-09-01","g":14,"k":"A"},{"d":"2009-09-01","g":25,"k":"A"},
{"d":"1996-02-01","g":33,"k":"B"},{"d":"1999-07-01","g":30,"k":"B"},{"d":"2004-01-01","g":32,"k":"B"},{"d":"2005-11-01","g":34,"k":"B"},
{"d":"1990-07-01","g":-17,"k":"C"},{"d":"1992-01-01","g":-15,"k":"C"},{"d":"1995-03-01","g":-18,"k":"C"},{"d":"1997-01-01","g":-15,"k":"C"},{"d":"1997-12-01","g":-15,"k":"C"},{"d":"1998-10-01","g":-17,"k":"C"},{"d":"2000-09-01","g":-17,"k":"C"},{"d":"2002-11-01","g":-17,"k":"C"},{"d":"2008-01-01","g":-18,"k":"C"},
{"d":"1990-08-01","g":-39,"k":"D"},{"d":"1992-05-01","g":-36,"k":"D"},{"d":"1995-05-01","g":-31,"k":"D"},{"d":"2000-10-01","g":-30,"k":"D"},{"d":"2001-08-01","g":-29,"k":"D"},{"d":"2002-12-01","g":-30,"k":"D"},{"d":"2008-02-01","g":-31.7,"k":"D"},{"d":"2008-09-01","g":-31.7,"k":"D"}
]
},
"vconcat":[
{
"width":838,"height":304,
"layer":[
{"data":{"name":"k"},"mark":{"type":"rule","color":"black","strokeWidth":1,"clip":true,"xOffset":0.5},
"encoding":{
"x":{"field":"d","type":"temporal","scale":{"type":"utc","round":true,"domain":[{"year":1987,"month":4,"date":12,"utc":true},{"year":2010,"month":7,"date":22,"utc":true}]},"axis":{"labels":false,"ticks":false,"domain":false,"title":null,"grid":true,"gridColor":"#000000","gridDash":[1,2],"gridOpacity":1,"values":[{"year":1990,"month":12,"date":1,"utc":true},{"year":1995,"month":12,"date":1,"utc":true},{"year":2000,"month":12,"date":1,"utc":true},{"year":2005,"month":12,"date":1,"utc":true}]}},
"y":{"field":"l","type":"quantitative","scale":{"domain":[3620,41860],"zero":false,"nice":false,"round":true},"axis":{"orient":"right","values":[10000,20000,30000],"format":"d","grid":true,"gridColor":"#008000","gridDash":[1,2],"gridOpacity":1,"domain":false,"ticks":false,"labelPadding":45,"labelAlign":"right","labelBaseline":"middle","title":null}},
"y2":{"field":"h"}}},
{"data":{"name":"k"},"mark":{"type":"bar","size":3,"color":"black","clip":true,"xOffset":0.5},
"encoding":{
"x":{"field":"d","type":"temporal","scale":{"type":"utc","round":true,"domain":[{"year":1987,"month":4,"date":12,"utc":true},{"year":2010,"month":7,"date":22,"utc":true}]},"axis":{"labels":false,"ticks":false,"domain":false,"title":null,"grid":true,"gridColor":"#000000","gridDash":[1,2],"gridOpacity":1,"values":[{"year":1990,"month":12,"date":1,"utc":true},{"year":1995,"month":12,"date":1,"utc":true},{"year":2000,"month":12,"date":1,"utc":true},{"year":2005,"month":12,"date":1,"utc":true}]}},
"y":{"field":"o","type":"quantitative","scale":{"domain":[3620,41860],"zero":false,"nice":false,"round":true},"axis":{"orient":"right","values":[10000,20000,30000],"format":"d","grid":true,"gridColor":"#008000","gridDash":[1,2],"gridOpacity":1,"domain":false,"ticks":false,"labelPadding":45,"labelAlign":"right","labelBaseline":"middle","title":null}},
"y2":{"field":"c"}}},
{"data":{"name":"k"},"transform":[{"filter":"datum.c - datum.o > 380"}],"mark":{"type":"bar","size":1,"color":"white","clip":true,"xOffset":0.5,"yOffset":1,"y2Offset":-1},
"encoding":{
"x":{"field":"d","type":"temporal","scale":{"type":"utc","round":true,"domain":[{"year":1987,"month":4,"date":12,"utc":true},{"year":2010,"month":7,"date":22,"utc":true}]},"axis":{"labels":false,"ticks":false,"domain":false,"title":null,"grid":true,"gridColor":"#000000","gridDash":[1,2],"gridOpacity":1,"values":[{"year":1990,"month":12,"date":1,"utc":true},{"year":1995,"month":12,"date":1,"utc":true},{"year":2000,"month":12,"date":1,"utc":true},{"year":2005,"month":12,"date":1,"utc":true}]}},
"y":{"field":"c","type":"quantitative","scale":{"domain":[3620,41860],"zero":false,"nice":false,"round":true},"axis":{"orient":"right","values":[10000,20000,30000],"format":"d","grid":true,"gridColor":"#008000","gridDash":[1,2],"gridOpacity":1,"domain":false,"ticks":false,"labelPadding":45,"labelAlign":"right","labelBaseline":"middle","title":null}},
"y2":{"field":"o"}}},
{"data":{"name":"ma"},"mark":{"type":"line","strokeWidth":1,"clip":true,"interpolate":"monotone"},
"encoding":{
"x":{"field":"d","type":"temporal","scale":{"type":"utc","round":true,"domain":[{"year":1987,"month":4,"date":12,"utc":true},{"year":2010,"month":7,"date":22,"utc":true}]},"axis":{"labels":false,"ticks":false,"domain":false,"title":null,"grid":true,"gridColor":"#000000","gridDash":[1,2],"gridOpacity":1,"values":[{"year":1990,"month":12,"date":1,"utc":true},{"year":1995,"month":12,"date":1,"utc":true},{"year":2000,"month":12,"date":1,"utc":true},{"year":2005,"month":12,"date":1,"utc":true}]}},
"y":{"field":"v","type":"quantitative","scale":{"domain":[3620,41860],"zero":false,"nice":false,"round":true},"axis":{"orient":"right","values":[10000,20000,30000],"format":"d","grid":true,"gridColor":"#008000","gridDash":[1,2],"gridOpacity":1,"domain":false,"ticks":false,"labelPadding":45,"labelAlign":"right","labelBaseline":"middle","title":null}},
"color":{"field":"s","type":"nominal","scale":{"domain":["b","r","g"],"range":["#1c1cb0","#d42020","#1a8a1a"]},"legend":null}}},
{"data":{"name":"ann"},"transform":[{"filter":"datum.kind == 'hi'"}],"mark":{"type":"text","dy":-18,"font":"DejaVu Sans Mono","fontSize":10,"color":"#1f8a8a","baseline":"middle","align":"center"},
"encoding":{
"x":{"field":"d","type":"temporal","scale":{"type":"utc","round":true,"domain":[{"year":1987,"month":4,"date":12,"utc":true},{"year":2010,"month":7,"date":22,"utc":true}]},"axis":{"labels":false,"ticks":false,"domain":false,"title":null,"grid":true,"gridColor":"#000000","gridDash":[1,2],"gridOpacity":1,"values":[{"year":1990,"month":12,"date":1,"utc":true},{"year":1995,"month":12,"date":1,"utc":true},{"year":2000,"month":12,"date":1,"utc":true},{"year":2005,"month":12,"date":1,"utc":true}]}},
"y":{"field":"v","type":"quantitative","scale":{"domain":[3620,41860],"zero":false,"nice":false,"round":true},"axis":{"orient":"right","values":[10000,20000,30000],"format":"d","grid":true,"gridColor":"#008000","gridDash":[1,2],"gridOpacity":1,"domain":false,"ticks":false,"labelPadding":45,"labelAlign":"right","labelBaseline":"middle","title":null}},
"text":{"field":"lbl"}}},
{"data":{"name":"ann"},"transform":[{"filter":"datum.kind == 'hi'"}],"mark":{"type":"text","dy":-8.5,"font":"DejaVu Sans Mono","fontSize":10,"color":"#1f8a8a","baseline":"middle","align":"center"},
"encoding":{
"x":{"field":"d","type":"temporal","scale":{"type":"utc","round":true,"domain":[{"year":1987,"month":4,"date":12,"utc":true},{"year":2010,"month":7,"date":22,"utc":true}]},"axis":{"labels":false,"ticks":false,"domain":false,"title":null,"grid":true,"gridColor":"#000000","gridDash":[1,2],"gridOpacity":1,"values":[{"year":1990,"month":12,"date":1,"utc":true},{"year":1995,"month":12,"date":1,"utc":true},{"year":2000,"month":12,"date":1,"utc":true},{"year":2005,"month":12,"date":1,"utc":true}]}},
"y":{"field":"v","type":"quantitative","scale":{"domain":[3620,41860],"zero":false,"nice":false,"round":true},"axis":{"orient":"right","values":[10000,20000,30000],"format":"d","grid":true,"gridColor":"#008000","gridDash":[1,2],"gridOpacity":1,"domain":false,"ticks":false,"labelPadding":45,"labelAlign":"right","labelBaseline":"middle","title":null}},
"text":{"field":"v","type":"quantitative","format":".2f"}}},
{"data":{"name":"ann"},"transform":[{"filter":"datum.kind == 'lo'"}],"mark":{"type":"text","dy":10.5,"font":"DejaVu Sans Mono","fontSize":10,"color":"#1f8a8a","baseline":"middle","align":"center","clip":true},
"encoding":{
"x":{"field":"d","type":"temporal","scale":{"type":"utc","round":true,"domain":[{"year":1987,"month":4,"date":12,"utc":true},{"year":2010,"month":7,"date":22,"utc":true}]},"axis":{"labels":false,"ticks":false,"domain":false,"title":null,"grid":true,"gridColor":"#000000","gridDash":[1,2],"gridOpacity":1,"values":[{"year":1990,"month":12,"date":1,"utc":true},{"year":1995,"month":12,"date":1,"utc":true},{"year":2000,"month":12,"date":1,"utc":true},{"year":2005,"month":12,"date":1,"utc":true}]}},
"y":{"field":"v","type":"quantitative","scale":{"domain":[3620,41860],"zero":false,"nice":false,"round":true},"axis":{"orient":"right","values":[10000,20000,30000],"format":"d","grid":true,"gridColor":"#008000","gridDash":[1,2],"gridOpacity":1,"domain":false,"ticks":false,"labelPadding":45,"labelAlign":"right","labelBaseline":"middle","title":null}},
"text":{"field":"v","type":"quantitative","format":".2f"}}},
{"data":{"name":"ann"},"transform":[{"filter":"datum.kind == 'lo'"}],"mark":{"type":"text","dy":20.5,"font":"DejaVu Sans Mono","fontSize":10,"color":"#1f8a8a","baseline":"middle","align":"center","clip":true},
"encoding":{
"x":{"field":"d","type":"temporal","scale":{"type":"utc","round":true,"domain":[{"year":1987,"month":4,"date":12,"utc":true},{"year":2010,"month":7,"date":22,"utc":true}]},"axis":{"labels":false,"ticks":false,"domain":false,"title":null,"grid":true,"gridColor":"#000000","gridDash":[1,2],"gridOpacity":1,"values":[{"year":1990,"month":12,"date":1,"utc":true},{"year":1995,"month":12,"date":1,"utc":true},{"year":2000,"month":12,"date":1,"utc":true},{"year":2005,"month":12,"date":1,"utc":true}]}},
"y":{"field":"v","type":"quantitative","scale":{"domain":[3620,41860],"zero":false,"nice":false,"round":true},"axis":{"orient":"right","values":[10000,20000,30000],"format":"d","grid":true,"gridColor":"#008000","gridDash":[1,2],"gridOpacity":1,"domain":false,"ticks":false,"labelPadding":45,"labelAlign":"right","labelBaseline":"middle","title":null}},
"text":{"field":"lbl"}}}
]
},
{
"width":838,"height":86,
"layer":[
{"data":{"name":"vol"},"mark":{"type":"bar","size":1,"color":"#12126e","clip":true,"xOffset":0.5},
"encoding":{
"x":{"field":"d","type":"temporal","scale":{"type":"utc","round":true,"domain":[{"year":1987,"month":4,"date":12,"utc":true},{"year":2010,"month":7,"date":22,"utc":true}]},"axis":{"labels":false,"ticks":false,"domain":false,"title":null,"grid":true,"gridColor":"#000000","gridDash":[1,2],"gridOpacity":1,"values":[{"year":1990,"month":12,"date":1,"utc":true},{"year":1995,"month":12,"date":1,"utc":true},{"year":2000,"month":12,"date":1,"utc":true},{"year":2005,"month":12,"date":1,"utc":true}]}},
"y":{"field":"vol","type":"quantitative","scale":{"domain":[150,580],"zero":false,"nice":false},"axis":null},
"y2":{"datum":150}}},
{"layer":[
{"data":{"name":"sig"},"mark":{"type":"line","strokeWidth":1,"color":"#000080","strokeDash":[1,2],"interpolate":"monotone","clip":true},
"encoding":{
"x":{"field":"d","type":"temporal","scale":{"type":"utc","round":true,"domain":[{"year":1987,"month":4,"date":12,"utc":true},{"year":2010,"month":7,"date":22,"utc":true}]},"axis":{"labels":false,"ticks":false,"domain":false,"title":null,"grid":true,"gridColor":"#000000","gridDash":[1,2],"gridOpacity":1,"values":[{"year":1990,"month":12,"date":1,"utc":true},{"year":1995,"month":12,"date":1,"utc":true},{"year":2000,"month":12,"date":1,"utc":true},{"year":2005,"month":12,"date":1,"utc":true}]}},
"y":{"field":"g","type":"quantitative","scale":{"domain":[-75.6,57.9],"zero":false,"nice":false},"axis":{"orient":"right","values":[-45,0,45],"labelExpr":"datum.value == 0 ? 'GCV' : datum.value + '%'","grid":true,"gridColor":"#008000","gridDash":[1,2],"gridOpacity":1,"domain":false,"ticks":false,"labelPadding":44,"labelAlign":"right","labelBaseline":"middle","title":null}}}},
{"data":{"name":"gcv"},"mark":{"type":"line","strokeWidth":1,"color":"#d030d0","interpolate":"monotone","clip":true},
"encoding":{
"x":{"field":"d","type":"temporal","scale":{"type":"utc","round":true,"domain":[{"year":1987,"month":4,"date":12,"utc":true},{"year":2010,"month":7,"date":22,"utc":true}]},"axis":{"labels":false,"ticks":false,"domain":false,"title":null,"grid":true,"gridColor":"#000000","gridDash":[1,2],"gridOpacity":1,"values":[{"year":1990,"month":12,"date":1,"utc":true},{"year":1995,"month":12,"date":1,"utc":true},{"year":2000,"month":12,"date":1,"utc":true},{"year":2005,"month":12,"date":1,"utc":true}]}},
"y":{"field":"g","type":"quantitative","scale":{"domain":[-75.6,57.9],"zero":false,"nice":false},"axis":{"orient":"right","values":[-45,0,45],"labelExpr":"datum.value == 0 ? 'GCV' : datum.value + '%'","grid":true,"gridColor":"#008000","gridDash":[1,2],"gridOpacity":1,"domain":false,"ticks":false,"labelPadding":44,"labelAlign":"right","labelBaseline":"middle","title":null}}}},
{"data":{"name":"mk"},"mark":{"type":"point","filled":true,"size":22,"stroke":"#ff00ff","strokeWidth":1,"opacity":1,"clip":true},
"encoding":{
"x":{"field":"d","type":"temporal","scale":{"type":"utc","round":true,"domain":[{"year":1987,"month":4,"date":12,"utc":true},{"year":2010,"month":7,"date":22,"utc":true}]},"axis":{"labels":false,"ticks":false,"domain":false,"title":null,"grid":true,"gridColor":"#000000","gridDash":[1,2],"gridOpacity":1,"values":[{"year":1990,"month":12,"date":1,"utc":true},{"year":1995,"month":12,"date":1,"utc":true},{"year":2000,"month":12,"date":1,"utc":true},{"year":2005,"month":12,"date":1,"utc":true}]}},
"y":{"field":"g","type":"quantitative","scale":{"domain":[-75.6,57.9],"zero":false,"nice":false},"axis":{"orient":"right","values":[-45,0,45],"labelExpr":"datum.value == 0 ? 'GCV' : datum.value + '%'","grid":true,"gridColor":"#008000","gridDash":[1,2],"gridOpacity":1,"domain":false,"ticks":false,"labelPadding":44,"labelAlign":"right","labelBaseline":"middle","title":null}},
"shape":{"field":"k","type":"nominal","scale":{"domain":["A","B","C","D"],"range":["square","circle","square","circle"]},"legend":null},
"fill":{"condition":{"test":"datum.k == 'A' || datum.k == 'B'","value":"#ff00ff"},"value":"white"}}}
]}
],
"resolve":{"scale":{"y":"independent"}}
}
]
}
